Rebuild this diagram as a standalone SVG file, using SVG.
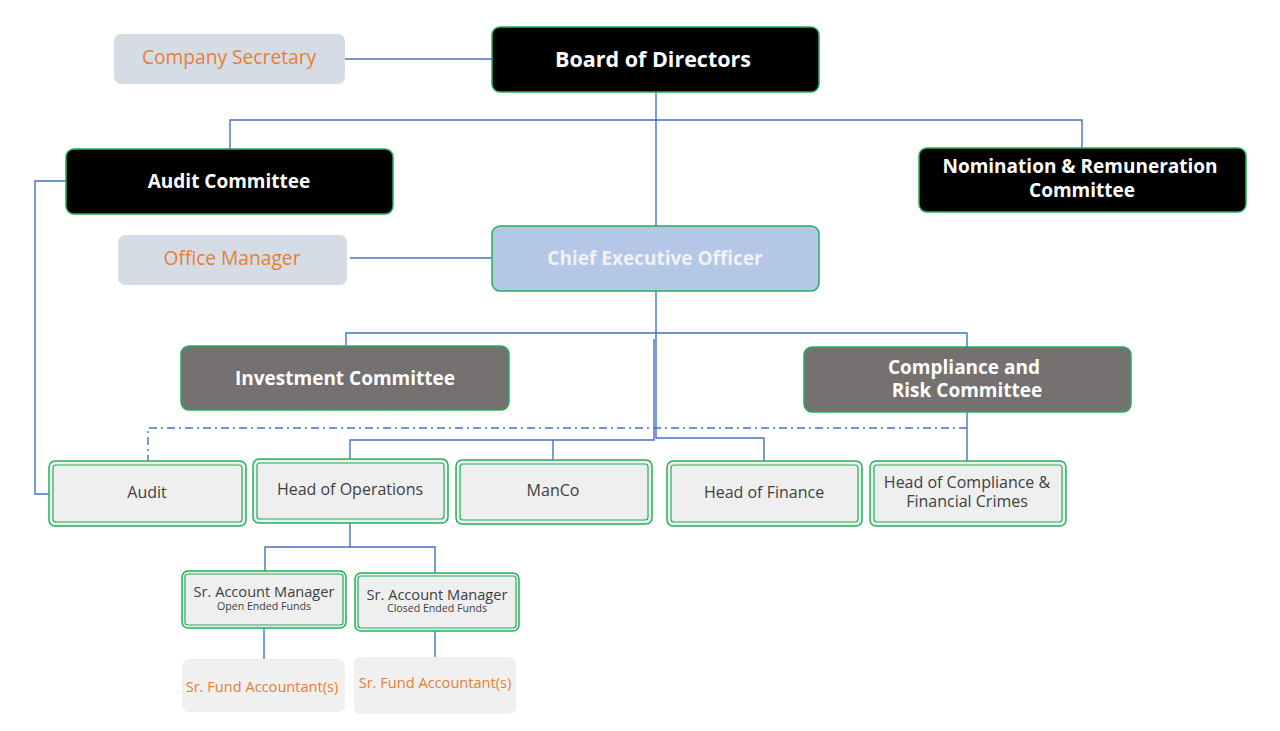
<svg xmlns="http://www.w3.org/2000/svg" width="1280" height="731" viewBox="0 0 1280 731">
<style>
.bg{fill:#ffffff}
.blk{fill:#000000;stroke:#22b05a;stroke-width:1.5}
.ceo{fill:#b4c7e7;stroke:#22b05a;stroke-width:1.5}
.gry{fill:#757171;stroke:#22b05a;stroke-width:1.5}
.sec{fill:#d6dce5;stroke:none}
.box{fill:#efefef;stroke:#22b05a;stroke-width:1.5}
.inner{fill:none;stroke:#22b05a;stroke-width:1.2}
.fa{fill:#f0f0f0;stroke:none}
.ln{fill:none;stroke:#4472c4;stroke-width:1.4}
.dd{fill:none;stroke:#4472c4;stroke-width:1.4;stroke-dasharray:8 4 2 4}
.h{font-family:"Open Sans","Noto Sans","Liberation Sans",sans-serif;font-weight:bold;font-size:19px;fill:#ffffff;text-anchor:middle}
.hb{font-family:"Open Sans","Noto Sans","Liberation Sans",sans-serif;font-weight:bold;font-size:21.5px;fill:#ffffff;text-anchor:middle}
.hc{font-family:"Open Sans","Noto Sans","Liberation Sans",sans-serif;font-weight:bold;font-size:19px;fill:#f2f2f2;text-anchor:middle}
.o{font-family:"Open Sans","Noto Sans","Liberation Sans",sans-serif;font-size:19.2px;fill:#e67e35;text-anchor:middle}
.o2{font-family:"Open Sans","Noto Sans","Liberation Sans",sans-serif;font-size:14.6px;fill:#e67e35;text-anchor:middle}
.t{font-family:"Open Sans","Noto Sans","Liberation Sans",sans-serif;font-size:16px;fill:#404040;text-anchor:middle}
.s{font-family:"Open Sans","Noto Sans","Liberation Sans",sans-serif;font-size:14.6px;fill:#404040;text-anchor:middle}
.ss{font-family:"Open Sans","Noto Sans","Liberation Sans",sans-serif;font-size:10.6px;fill:#404040;text-anchor:middle}
</style>
<rect class="bg" x="0" y="0" width="1280" height="731"/>
<g id="connectors">
<path class="ln" d="M344,59 H492"/>
<path class="ln" d="M656,92 V226"/>
<path class="ln" d="M230,149 V120 H1082 V148"/>
<path class="ln" d="M66,181 H35 V494 H50"/>
<path class="ln" d="M350,258 H492"/>
<path class="ln" d="M656,291 V438 H764 V462"/>
<path class="ln" d="M346,346 V333 H967 V347"/>
<path class="ln" d="M654,339 V440 H350 V459"/>
<path class="ln" d="M553,440 V460"/>
<path class="ln" d="M967,412 V461"/>
<path class="dd" d="M967,428 H148 V461"/>
<path class="ln" d="M350,523 V547 H265 V571"/>
<path class="ln" d="M350,547 H435 V573"/>
<path class="ln" d="M264,628 V659"/>
<path class="ln" d="M435,631 V657"/>
</g>
<g id="company-secretary">
<rect class="sec" x="114" y="34" width="231" height="50" rx="7"/>
<text class="o" x="229" y="64">Company Secretary</text>
</g>
<g id="board">
<rect class="blk" x="492" y="27" width="327" height="65" rx="8"/>
<text class="hb" x="653" y="67">Board of Directors</text>
</g>
<g id="audit-committee">
<rect class="blk" x="66" y="149" width="327" height="65" rx="8"/>
<text class="h" x="229" y="188">Audit Committee</text>
</g>
<g id="nomination">
<rect class="blk" x="919" y="148" width="327" height="64" rx="8"/>
<text class="h" x="1080" y="173">Nomination &amp; Remuneration</text>
<text class="h" x="1082" y="197">Committee</text>
</g>
<g id="office-manager">
<rect class="sec" x="118" y="235" width="229" height="50" rx="7"/>
<text class="o" x="232" y="265">Office Manager</text>
</g>
<g id="ceo">
<rect class="ceo" x="492" y="226" width="327" height="65" rx="8"/>
<text class="hc" x="655" y="265">Chief Executive Officer</text>
</g>
<g id="investment-committee">
<rect class="gry" x="181" y="346" width="328" height="64" rx="8"/>
<text class="h" x="345" y="385">Investment Committee</text>
</g>
<g id="compliance-risk">
<rect class="gry" x="804" y="347" width="327" height="65" rx="8"/>
<text class="h" x="964" y="374">Compliance and</text>
<text class="h" x="967" y="397">Risk Committee</text>
</g>
<g id="audit">
<rect class="box" x="49" y="461" width="197" height="65" rx="6"/>
<rect class="inner" x="53" y="465" width="189" height="57" rx="3"/>
<text class="t" x="147" y="498">Audit</text>
</g>
<g id="head-operations">
<rect class="box" x="253" y="459" width="195" height="64" rx="6"/>
<rect class="inner" x="257" y="463" width="187" height="56" rx="3"/>
<text class="t" x="350" y="495">Head of Operations</text>
</g>
<g id="manco">
<rect class="box" x="456" y="460" width="196" height="64" rx="6"/>
<rect class="inner" x="460" y="464" width="188" height="56" rx="3"/>
<text class="t" x="553" y="496">ManCo</text>
</g>
<g id="head-finance">
<rect class="box" x="667" y="461" width="195" height="65" rx="6"/>
<rect class="inner" x="671" y="465" width="187" height="57" rx="3"/>
<text class="t" x="764" y="498">Head of Finance</text>
</g>
<g id="head-compliance">
<rect class="box" x="870" y="461" width="196" height="65" rx="6"/>
<rect class="inner" x="874" y="465" width="188" height="57" rx="3"/>
<text class="t" x="967" y="488">Head of Compliance &amp;</text>
<text class="t" x="967" y="507">Financial Crimes</text>
</g>
<g id="sr-am-open">
<rect class="box" x="182" y="571" width="164" height="57" rx="6"/>
<rect class="inner" x="185" y="574" width="158" height="51" rx="3"/>
<text class="s" x="264" y="597">Sr. Account Manager</text>
<text class="ss" x="264" y="610">Open Ended Funds</text>
</g>
<g id="sr-am-closed">
<rect class="box" x="355" y="573" width="164" height="58" rx="6"/>
<rect class="inner" x="358" y="576" width="158" height="52" rx="3"/>
<text class="s" x="437" y="600">Sr. Account Manager</text>
<text class="ss" x="437" y="612">Closed Ended Funds</text>
</g>
<g id="sr-fa-1">
<rect class="fa" x="182" y="659" width="163" height="53" rx="7"/>
<text class="o2" x="262" y="692">Sr. Fund Accountant(s)</text>
</g>
<g id="sr-fa-2">
<rect class="fa" x="354" y="657" width="162" height="57" rx="7"/>
<text class="o2" x="435" y="688">Sr. Fund Accountant(s)</text>
</g>
</svg>
